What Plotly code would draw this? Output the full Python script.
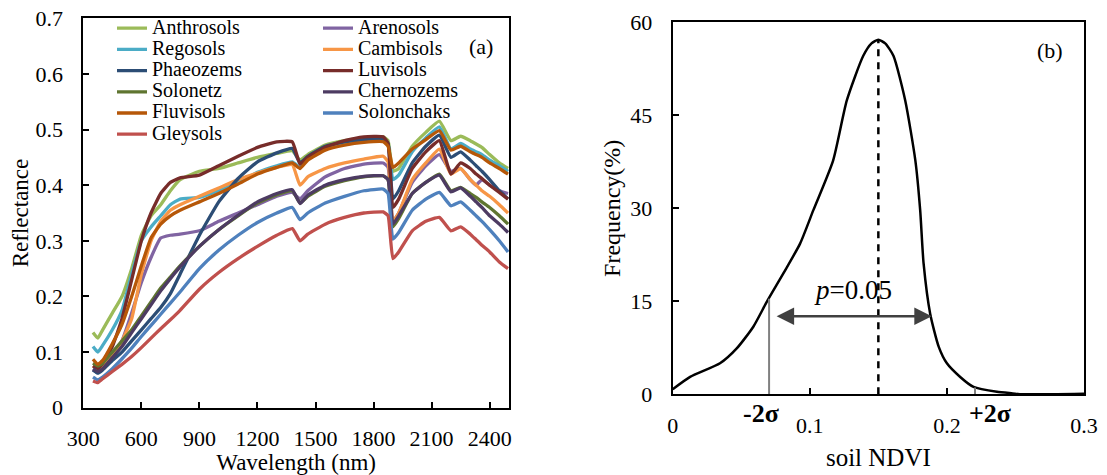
import plotly.graph_objects as go

# ---------------- data: panel (a) ----------------
wavelength = [350, 375, 400, 450, 500, 550, 600, 650, 700, 750, 800, 900, 1000, 1100, 1200,
              1300, 1380, 1420, 1460, 1550, 1650, 1750, 1850, 1875, 1900, 1930, 2000, 2070,
              2140, 2200, 2250, 2300, 2330, 2360, 2400, 2450, 2495]

soil_names = ["Anthrosols", "Arenosols", "Regosols", "Cambisols", "Phaeozems", "Luvisols",
              "Solonetz", "Chernozems", "Fluvisols", "Solonchaks", "Gleysols"]

anthrosols = [.135, .125, .14, .17, .20, .25, .31, .345, .365, .39, .41, .425, .43, .44, .45,
              .457, .462, .445, .455, .472, .48, .485, .487, .48, .425, .43, .47, .495,
              .515, .48, .488, .48, .474, .468, .455, .44, .43]
arenosols = [.068, .063, .07, .09, .12, .17, .225, .27, .305, .31, .312, .318, .335, .35, .365,
             .38, .387, .375, .39, .415, .43, .438, .44, .432, .335, .35, .405, .435,
             .455, .425, .43, .41, .40, .41, .40, .39, .385]
regosols = [.11, .10, .112, .14, .175, .24, .30, .325, .345, .365, .375, .378, .39, .405, .423,
            .435, .442, .432, .447, .465, .475, .48, .482, .475, .41, .418, .46, .485,
            .505, .465, .475, .465, .46, .455, .445, .435, .425]
cambisols = [.075, .07, .075, .095, .12, .16, .24, .30, .335, .355, .365, .38, .395, .41, .422,
             .432, .437, .40, .415, .43, .44, .447, .452, .442, .335, .35, .41, .44,
             .465, .42, .43, .41, .40, .39, .38, .365, .35]
phaeozems = [.068, .062, .068, .085, .10, .12, .14, .16, .18, .205, .24, .31, .37, .412, .442,
             .458, .466, .44, .452, .47, .478, .482, .483, .475, .375, .39, .44, .47,
             .49, .45, .46, .445, .435, .425, .41, .39, .375]
luvisols = [.075, .07, .08, .11, .16, .23, .30, .35, .385, .405, .413, .418, .435, .452, .468,
            .478, .478, .438, .45, .468, .48, .487, .487, .475, .36, .375, .43, .46,
            .48, .42, .44, .43, .42, .412, .40, .387, .375]
solonetz = [.08, .075, .08, .10, .12, .14, .165, .19, .215, .235, .255, .29, .32, .345, .368,
            .383, .39, .368, .38, .398, .408, .415, .417, .41, .325, .34, .385, .405,
            .42, .39, .396, .385, .378, .37, .36, .345, .33]
chernozems = [.07, .065, .07, .09, .11, .135, .16, .185, .21, .232, .253, .29, .32, .346, .37,
              .385, .392, .367, .382, .40, .41, .416, .417, .41, .33, .345, .385, .405,
              .418, .388, .395, .38, .37, .36, .345, .33, .315]
fluvisols = [.087, .078, .085, .115, .15, .20, .255, .305, .33, .345, .355, .37, .385, .402, .42,
             .432, .44, .43, .445, .463, .472, .477, .478, .47, .432, .44, .465, .482,
             .498, .463, .47, .46, .455, .45, .44, .43, .42]
solonchaks = [.055, .05, .055, .07, .088, .107, .128, .148, .168, .188, .208, .25, .283, .31, .333,
              .35, .36, .338, .35, .368, .38, .39, .393, .385, .303, .315, .355, .375,
              .387, .363, .37, .355, .345, .335, .32, .30, .28]
gleysols = [.048, .045, .052, .065, .078, .092, .108, .125, .142, .158, .175, .213, .243, .268, .29,
            .31, .322, .30, .312, .33, .342, .35, .352, .345, .268, .28, .318, .335,
            .342, .318, .325, .312, .302, .292, .28, .262, .25]

reflectance = [anthrosols, arenosols, regosols, cambisols, phaeozems, luvisols,
               solonetz, chernozems, fluvisols, solonchaks, gleysols]

soil_colors = ["#9BBB59", "#8064A2", "#4BACC6", "#F79646", "#2C4D75", "#772C2A",
               "#5F7530", "#4D3B62", "#B65708", "#4F81BD", "#C0504D"]

x_ticks_a = [300, 600, 900, 1200, 1500, 1800, 2100, 2400]
y_ticks_a = [0, 0.1, 0.2, 0.3, 0.4, 0.5, 0.6, 0.7]
y_ticklabels_a = ["0", "0.1", "0.2", "0.3", "0.4", "0.5", "0.6", "0.7"]

# ---------------- data: panel (b) ----------------
ndvi = [0.0, 0.0127, 0.0345, 0.0467, 0.0588, 0.0686, 0.0807, 0.0929, 0.1026, 0.117, 0.127,
        0.139, 0.145, 0.150, 0.155, 0.161, 0.1696, 0.177, 0.1805, 0.183, 0.1878, 0.194,
        0.200, 0.2097, 0.2194, 0.2365, 0.248, 0.255, 0.30]
frequency = [0.8, 2.8, 5.0, 7.4, 10.9, 14.9, 19.5, 24.3, 29.7, 37.7, 47.4,
             54.6, 56.6, 57.2, 56.6, 54.6, 47.4, 37.7, 29.7, 21.1, 13.0, 7.7,
             5.0, 2.8, 1.2, 0.4, 0.15, 0.0, 0.1]
ndvi_mean = 0.150
peak_freq = 57.2
minus_2sigma = 0.0703
minus_2sigma_freq = 15.4
plus_2sigma = 0.2205
plus_2sigma_freq = 1.1
arrow_left, arrow_right, arrow_y = 0.0747, 0.189, 12.6

x_ticks_b = [0, 0.1, 0.2, 0.3]
x_ticklabels_b = ["0", "0.1", "0.2", "0.3"]
y_ticks_b = [0, 15, 30, 45, 60]

FONT = "Liberation Serif, Times New Roman, serif"

# the page body has an 8px default margin; size the figure to fill the rest
OFF = 8
FIG_W, FIG_H = 1107 - OFF, 475 - OFF


def px_x(px):
    return (px - OFF) / FIG_W


def px_y(py):
    return 1 - (py - OFF) / FIG_H


fig = go.Figure()

for i, (name, vals, col) in enumerate(zip(soil_names, reflectance, soil_colors)):
    fig.add_trace(go.Scatter(
        x=wavelength, y=vals, name=f"<span style='font-size:20px'>{name}</span>",
        mode="lines", line=dict(color=col, width=3.3, shape="spline", smoothing=0.4),
        xaxis="x", yaxis="y",
        legend="legend" if i % 2 == 0 else "legend2",
    ))

# panel (b)
fig.add_trace(go.Scatter(x=ndvi, y=frequency, mode="lines",
                         line=dict(color="black", width=2.5, shape="spline", smoothing=0.6),
                         xaxis="x2", yaxis="y2", showlegend=False))
fig.add_trace(go.Scatter(x=[ndvi_mean, ndvi_mean], y=[0, peak_freq], mode="lines",
                         line=dict(color="black", width=2.5, dash="7px,6px"),
                         xaxis="x2", yaxis="y2", showlegend=False))
fig.add_trace(go.Scatter(x=[minus_2sigma, minus_2sigma], y=[0, minus_2sigma_freq], mode="lines",
                         line=dict(color="#808080", width=2),
                         xaxis="x2", yaxis="y2", showlegend=False))
fig.add_trace(go.Scatter(x=[plus_2sigma, plus_2sigma], y=[0, plus_2sigma_freq], mode="lines",
                         line=dict(color="#808080", width=2),
                         xaxis="x2", yaxis="y2", showlegend=False))

axis_common = dict(showline=True, linecolor="black", linewidth=2, mirror=True,
                   ticks="inside", ticklen=6, tickwidth=1.5, tickcolor="black",
                   showgrid=False, zeroline=False, automargin=False,
                   ticklabeloverflow="allow",
                   tickfont=dict(family=FONT, size=22, color="black"))

fig.update_layout(
    width=FIG_W, height=FIG_H,
    margin=dict(l=0, r=0, t=0, b=0, autoexpand=False),
    paper_bgcolor="white", plot_bgcolor="white",
    font=dict(family=FONT, color="black"),
    xaxis=dict(domain=[px_x(83.3), px_x(509)], range=[300, 2500], tickvals=x_ticks_a,
               ticklabelstandoff=10,
               title=dict(text="Wavelength (nm)", font=dict(family=FONT, size=23), standoff=4),
               anchor="y", **axis_common),
    yaxis=dict(domain=[px_y(407.7), px_y(18.3)], range=[0, 0.7], tickvals=y_ticks_a,
               ticktext=y_ticklabels_a, ticklabelstandoff=14,
               title=dict(text="Reflectance", font=dict(family=FONT, size=23), standoff=0),
               anchor="x", **axis_common),
    xaxis2=dict(domain=[px_x(672.7), px_x(1084)], range=[0, 0.3], tickvals=x_ticks_b,
                ticktext=x_ticklabels_b, ticklabelstandoff=10,
                title=dict(text="soil NDVI", font=dict(family=FONT, size=25), standoff=12),
                anchor="y2", **axis_common),
    yaxis2=dict(domain=[px_y(394.3), px_y(22.3)], range=[0, 60], tickvals=y_ticks_b,
                ticklabelstandoff=14,
                title=dict(text="Frequency(%)", font=dict(family=FONT, size=24), standoff=3),
                anchor="x2", **axis_common),
    legend=dict(x=px_x(112), y=px_y(12.6), xanchor="left", yanchor="top",
                font=dict(family=FONT, size=14, color="black"),
                bgcolor="rgba(0,0,0,0)", itemwidth=30, tracegroupgap=0),
    legend2=dict(x=px_x(318), y=px_y(12.6), xanchor="left", yanchor="top",
                 font=dict(family=FONT, size=14, color="black"),
                 bgcolor="rgba(0,0,0,0)", itemwidth=30, tracegroupgap=0),
    annotations=[
        dict(text="(a)", x=2354, y=0.65, xref="x", yref="y", showarrow=False,
             font=dict(family=FONT, size=22)),
        dict(text="(b)", x=0.2754, y=55.4, xref="x2", yref="y2", showarrow=False,
             font=dict(family=FONT, size=22)),
        dict(text="<i>p</i>=0.05", x=0.1316, y=16.8, xref="x2", yref="y2", showarrow=False,
             font=dict(family=FONT, size=27)),
        dict(text="<b>-2σ</b>", x=0.0645, y=px_y(413.5), xref="x2", yref="paper",
             yanchor="middle", showarrow=False, font=dict(family=FONT, size=26)),
        dict(text="<b>+2σ</b>", x=0.2316, y=px_y(413.5), xref="x2", yref="paper",
             yanchor="middle", showarrow=False, font=dict(family=FONT, size=26)),
        dict(text="", x=arrow_right, y=arrow_y, ax=arrow_left, ay=arrow_y,
             xref="x2", yref="y2", axref="x2", ayref="y2", showarrow=True,
             arrowhead=2, startarrowhead=2, arrowside="end+start",
             arrowsize=1.4, startarrowsize=1.4, arrowwidth=2.5, arrowcolor="#404040"),
    ],
)

fig.write_html("out.html")
